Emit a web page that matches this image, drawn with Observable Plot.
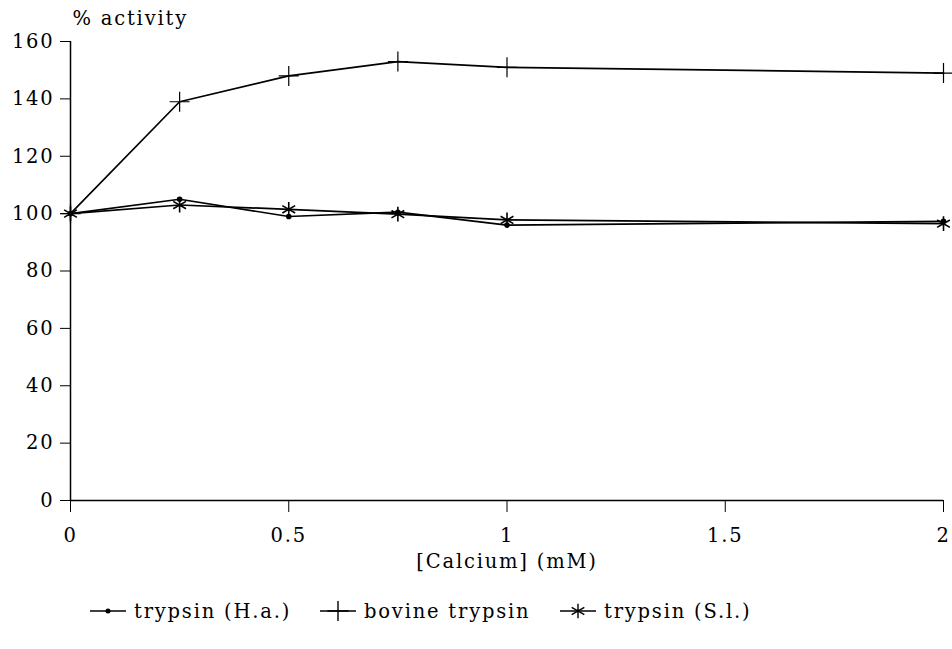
<!DOCTYPE html>
<html>
<head>
<meta charset="utf-8">
<script src="https://cdn.jsdelivr.net/npm/d3@7"></script>
<script src="https://cdn.jsdelivr.net/npm/@observablehq/plot@0.6"></script>
<style>
  body { margin: 0; background: #fff; font-family: "DejaVu Serif", serif; }
  #chart svg { display: block; }
  #legend { position: relative; height: 69px; font-size: 19.5px; letter-spacing: 1.8px; color: #000; }
  .item { position: absolute; top: 19px; display: flex; align-items: center; height: 24px; }
  .item svg { margin-right: 8px; }
</style>
</head>
<body>
<div id="chart"></div>
<div id="legend"></div>
<script>
// Calcium concentration (mM) and relative activity (%) for each enzyme
const calcium = [0, 0.25, 0.5, 0.75, 1, 2];
const trypsinHa = [100, 105, 99, 100.5, 96, 97.3];
const bovineTrypsin = [100, 139, 148, 153, 151, 149];
const trypsinSl = [100, 103, 101.5, 99.8, 97.8, 96.5];

const seriesNames = ["trypsin (H.a.)", "bovine trypsin", "trypsin (S.l.)"];
const seriesValues = [trypsinHa, bovineTrypsin, trypsinSl];

const xTicks = [0, 0.5, 1, 1.5, 2];
const yTicks = [0, 20, 40, 60, 80, 100, 120, 140, 160];
const yLabel = "% activity";
const xLabel = "[Calcium] (mM)";

const rows = seriesNames.flatMap((name, i) =>
  calcium.map((c, j) => ({series: name, calcium: c, value: seriesValues[i][j]}))
);
const only = (name) => rows.filter((d) => d.series === name);

const chart = Plot.plot({
  width: 952,
  height: 580,
  marginLeft: 70,
  marginRight: 9,
  marginTop: 41,
  marginBottom: 80,
  style: {fontFamily: "DejaVu Serif", fontSize: "19.5px", color: "#000", background: "#fff", letterSpacing: "1.8px"},
  x: {domain: [0, 2]},
  y: {domain: [0, 160]},
  marks: [
    Plot.axisY(yTicks, {tickSize: 10, tickPadding: 6, tickFormat: (d) => String(d), label: null}),
    Plot.axisX(xTicks, {
      tickSize: 12, tickPadding: 16, tickFormat: (d) => String(d),
      label: xLabel, labelAnchor: "center", labelArrow: "none", labelOffset: 67
    }),
    Plot.text([yLabel], {frameAnchor: "top-left", textAnchor: "start", lineAnchor: "middle", dx: 2, dy: -23}),
    Plot.ruleX([0], {y1: 0, y2: 160, stroke: "#000", strokeWidth: 1.5}),
    Plot.ruleY([0], {x1: 0, x2: 2, stroke: "#000", strokeWidth: 1.5}),
    Plot.line(rows, {x: "calcium", y: "value", z: "series", stroke: "#000", strokeWidth: 1.7}),
    Plot.dot(only(seriesNames[0]), {x: "calcium", y: "value", r: 2.8, fill: "#000", stroke: "none"}),
    Plot.dot(only(seriesNames[1]), {x: "calcium", y: "value", symbol: "plus", r: 6.5, stroke: "#000", strokeWidth: 1.2}),
    Plot.dot(only(seriesNames[2]), {x: "calcium", y: "value", symbol: "asterisk", r: 7, stroke: "#000", strokeWidth: 1.6})
  ]
});
document.getElementById("chart").appendChild(chart);

// Legend: line swatch with the series marker, then its name
const legendLefts = [90, 320, 560];
const legendSymbols = ["circle", "plus", "asterisk"];
const legend = d3.select("#legend");
seriesNames.forEach((name, i) => {
  const item = legend.append("div").attr("class", "item").style("left", legendLefts[i] + "px");
  const svg = item.append("svg").attr("width", 36).attr("height", 20);
  svg.append("line").attr("x1", 0).attr("x2", 36).attr("y1", 10).attr("y2", 10)
    .attr("stroke", "#000").attr("stroke-width", 1.6);
  const sym = {circle: d3.symbolCircle, plus: d3.symbolPlus, asterisk: d3.symbolAsterisk}[legendSymbols[i]];
  const path = svg.append("path")
    .attr("transform", "translate(18,10)")
    .attr("d", d3.symbol(sym, legendSymbols[i] === "circle" ? 20 : 150)());
  if (legendSymbols[i] === "circle") path.attr("fill", "#000");
  else path.attr("fill", "none").attr("stroke", "#000").attr("stroke-width", 1.4);
  item.append("span").text(name);
});
</script>
</body>
</html>
